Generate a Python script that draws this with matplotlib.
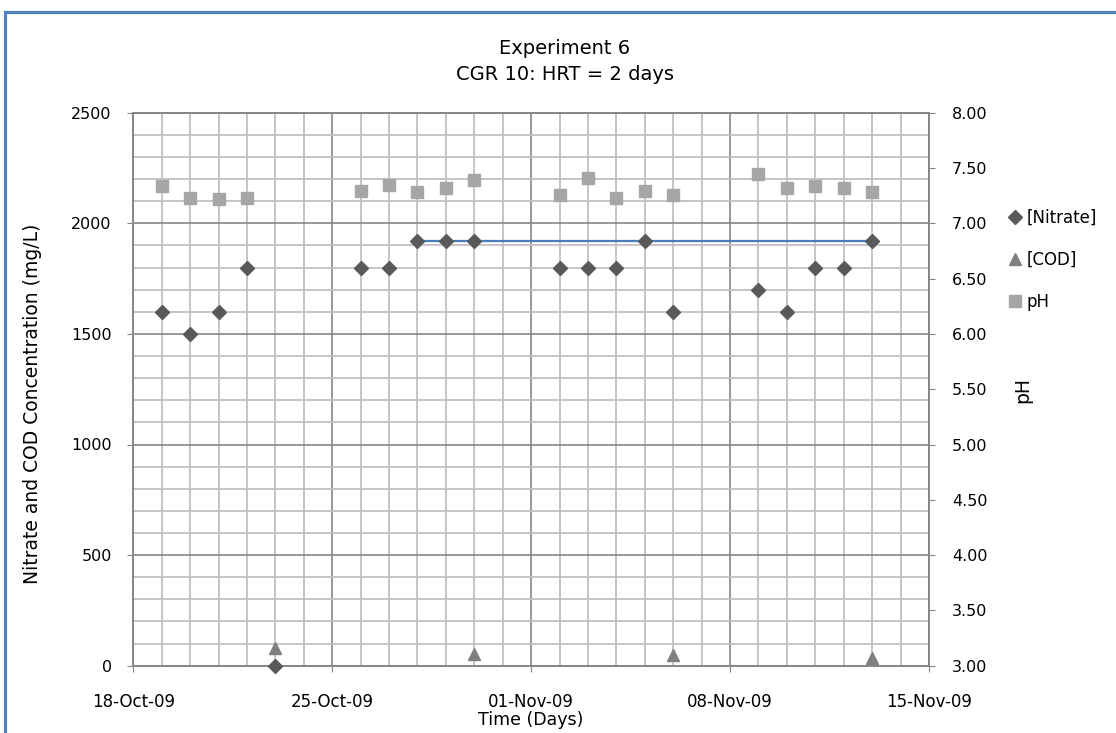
import numpy as np
import pandas as pd
import matplotlib
matplotlib.use("Agg")
import matplotlib.pyplot as plt
import matplotlib.dates as mdates
import matplotlib.ticker as mticker
from matplotlib.patches import Rectangle
from matplotlib.lines import Line2D

plt.rcParams["font.family"] = ["DejaVu Sans"]

# ── Data ────────────────────────────────────────────────────────────────────
nitrate_dates = ["2009-10-19", "2009-10-20", "2009-10-21", "2009-10-22", "2009-10-23",
                 "2009-10-26", "2009-10-27", "2009-10-28", "2009-10-29", "2009-10-30",
                 "2009-11-02", "2009-11-03", "2009-11-04", "2009-11-05", "2009-11-06",
                 "2009-11-09", "2009-11-10", "2009-11-11", "2009-11-12", "2009-11-13"]
nitrate = [1600, 1500, 1600, 1800, 0,
           1800, 1800, 1920, 1920, 1920,
           1800, 1800, 1800, 1920, 1600,
           1700, 1600, 1800, 1800, 1920]

cod_dates = ["2009-10-23", "2009-10-30", "2009-11-06", "2009-11-13"]
cod = [78, 55, 50, 35]

ph_dates = ["2009-10-19", "2009-10-20", "2009-10-21", "2009-10-22",
            "2009-10-26", "2009-10-27", "2009-10-28", "2009-10-29", "2009-10-30",
            "2009-11-02", "2009-11-03", "2009-11-04", "2009-11-05", "2009-11-06",
            "2009-11-09", "2009-11-10", "2009-11-11", "2009-11-12", "2009-11-13"]
ph = [7.34, 7.23, 7.22, 7.23,
      7.29, 7.35, 7.28, 7.32, 7.39,
      7.26, 7.41, 7.23, 7.29, 7.26,
      7.45, 7.32, 7.34, 7.32, 7.28]

target_dates = ["2009-10-28", "2009-11-13"]
target = [1920, 1920]

nitrate_dates = pd.to_datetime(nitrate_dates)
cod_dates = pd.to_datetime(cod_dates)
ph_dates = pd.to_datetime(ph_dates)
target_dates = pd.to_datetime(target_dates)

# ── Colours ─────────────────────────────────────────────────────────────────
C_NIT = "#595959"
C_COD = "#7f7f7f"
C_PH = "#a6a6a6"
C_BLUE = "#4a7ebb"
C_GRID_MIN = "#c0c0c0"
C_GRID_MAJ = "#868686"

W, H = 1116, 733
fig = plt.figure(figsize=(W / 100, H / 100), dpi=100)
ax = fig.add_axes([133.3 / W, 1 - 665.7 / H, (929 - 133.3) / W, (665.7 - 112.7) / H])

# outer chart border (cropped on the right and bottom)
fig.patches.append(Rectangle((4.5 / W, -0.05), 1.2, 1.05 - 11.5 / H,
                             transform=fig.transFigure, fill=False,
                             edgecolor="#4f81bd", linewidth=2.3))

ax.plot(target_dates, target, color=C_BLUE, lw=1.6, zorder=4)
ax.plot(nitrate_dates, nitrate, ls="none", marker="D", ms=7.5, color=C_NIT,
        mec=C_NIT, zorder=5, clip_on=False)
ax.plot(cod_dates, cod, ls="none", marker="^", ms=9, color=C_COD, mec=C_COD, zorder=5)

x0 = pd.Timestamp("2009-10-18")
x1 = pd.Timestamp("2009-11-15")
ax.set_xlim(x0, x1)
ax.set_ylim(0, 2500)

ax.xaxis.set_major_locator(mticker.FixedLocator(
    mdates.date2num(pd.date_range(x0, x1, freq="7D"))))
ax.xaxis.set_minor_locator(mdates.DayLocator())
ax.xaxis.set_major_formatter(mdates.DateFormatter("%d-%b-%y"))
ax.yaxis.set_major_locator(mticker.MultipleLocator(500))
ax.yaxis.set_minor_locator(mticker.MultipleLocator(100))

ax.grid(which="minor", color=C_GRID_MIN, lw=1.3, zorder=0)
ax.grid(which="major", color=C_GRID_MAJ, lw=1.2, zorder=1)
ax.set_axisbelow(True)
for s in ax.spines.values():
    s.set_color(C_GRID_MAJ)
    s.set_linewidth(1.4)

ax.tick_params(axis="both", which="major", length=4.5, color=C_GRID_MAJ,
               labelsize=11.5, direction="out")
ax.tick_params(axis="x", labelsize=12, pad=15)
ax.tick_params(axis="both", which="minor", length=0)
ax.tick_params(axis="y", pad=11)

ax.set_ylabel("Nitrate and COD Concentration (mg/L)", fontsize=13.5)
ax.yaxis.set_label_coords((42 - 133.3) / (929 - 133.3), (665.7 - 404) / 553)
ax.set_xlabel("Time (Days)", fontsize=12.5, labelpad=0)

# ── pH on secondary axis ────────────────────────────────────────────────────
ax2 = ax.twinx()
ax2.plot(ph_dates, ph, ls="none", marker="s", ms=8.5, color=C_PH, mec=C_PH, zorder=5)
ax2.set_ylim(3.0, 8.0)
ax2.yaxis.set_major_locator(mticker.MultipleLocator(0.5))
ax2.yaxis.set_major_formatter(mticker.FormatStrFormatter("%.2f"))
ax2.tick_params(axis="y", length=4.5, color=C_GRID_MAJ, labelsize=11.5, pad=12)
for s in ax2.spines.values():
    s.set_visible(False)
ax2.set_ylabel("pH", fontsize=13.5)
ax2.yaxis.set_label_coords((1013 - 133.3) / (929 - 133.3), (665.7 - 390) / 553)

fig.text(565 / W, 1 - 49 / H, "Experiment 6", ha="center", va="center", fontsize=14)
fig.text(565 / W, 1 - 75 / H, "CGR 10: HRT = 2 days", ha="center", va="center",
         fontsize=14)

handles = [
    Line2D([], [], ls="none", marker="D", ms=7, color=C_NIT),
    Line2D([], [], ls="none", marker="^", ms=9, color=C_COD),
    Line2D([], [], ls="none", marker="s", ms=8.5, color=C_PH),
]
fig.legend(handles, ["[Nitrate]", "[COD]", "pH"], loc="upper left",
           bbox_to_anchor=(1002 / W, 1 - 202 / H), frameon=False, fontsize=12,
           handlelength=0.8, handletextpad=0.3, labelspacing=1.45, borderaxespad=0)

fig.savefig("out.png", dpi=100)
